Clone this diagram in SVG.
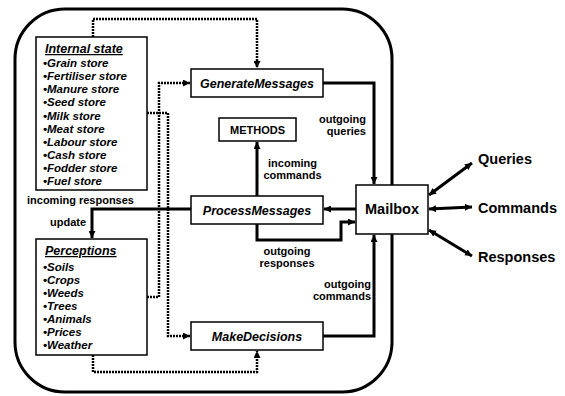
<svg xmlns="http://www.w3.org/2000/svg" width="565" height="396" viewBox="0 0 565 396">
<defs>
<marker id="ah" viewBox="0 0 10 10" refX="10" refY="5" markerWidth="7" markerHeight="7" markerUnits="userSpaceOnUse" orient="auto-start-reverse">
<path d="M0,0 L10,5 L0,10 z" fill="#000"/>
</marker>
<style>
text{font-family:"Liberation Sans",Arial,sans-serif;font-weight:bold;fill:#000}
.box{fill:#fff;stroke:#000;stroke-width:1.5}
.solid{fill:none;stroke:#000;stroke-width:3}
.dot{fill:none;stroke:#000;stroke-width:2.5;stroke-dasharray:2 1}
.arr{marker-end:url(#ah)}
.dbl{marker-start:url(#ah);marker-end:url(#ah)}
.bi{font-style:italic;font-size:12.5px}
.it{font-style:italic;font-size:11.5px}
.lbl{font-size:11px}
.big{font-size:14.5px}
</style>
</defs>
<rect width="565" height="396" fill="#fff"/>
<rect id="agent" x="15" y="9" width="377" height="383" rx="50" ry="50" fill="none" stroke="#000" stroke-width="3"/>

<g id="connectors">
<path class="dot arr" d="M93,37 V19 H257 V68"/>
<path class="dot arr" d="M147,297 H159 V83 H190"/>
<path class="dot arr" d="M147,113 H168 V336 H190"/>
<path class="dot arr" d="M93,355 V372 H257 V351"/>
<path class="solid arr" d="M323,83 H374 V184"/>
<path class="solid arr" d="M323,336 H374 V235"/>
<path class="solid arr" d="M356,209 H324"/>
<path class="solid arr" d="M257,224 V240 H341 V222 H355"/>
<path class="solid arr" d="M257,196 V142"/>
<path class="solid arr" d="M191,209 H92 V238"/>
<path class="solid dbl" d="M429,195 L472,163"/>
<path class="solid dbl" d="M429,209 L472,207"/>
<path class="solid dbl" d="M429,230 L472,256"/>
</g>

<g id="internal-state">
<rect class="box" x="36" y="37" width="111" height="153"/>
<text x="45" y="53" class="bi" text-decoration="underline">Internal state</text>
<text x="43" y="67" class="it">•Grain store</text>
<text x="43" y="80" class="it">•Fertiliser store</text>
<text x="43" y="93" class="it">•Manure store</text>
<text x="43" y="106" class="it">•Seed store</text>
<text x="43" y="120" class="it">•Milk store</text>
<text x="43" y="133" class="it">•Meat store</text>
<text x="43" y="146" class="it">•Labour store</text>
<text x="43" y="159" class="it">•Cash store</text>
<text x="43" y="172" class="it">•Fodder store</text>
<text x="43" y="185" class="it">•Fuel store</text>
</g>

<g id="perceptions">
<rect class="box" x="36" y="239" width="111" height="116"/>
<text x="45" y="255" class="bi" text-decoration="underline">Perceptions</text>
<text x="43" y="271" class="it">•Soils</text>
<text x="43" y="284" class="it">•Crops</text>
<text x="43" y="297" class="it">•Weeds</text>
<text x="43" y="310" class="it">•Trees</text>
<text x="43" y="323" class="it">•Animals</text>
<text x="43" y="336" class="it">•Prices</text>
<text x="43" y="349" class="it">•Weather</text>
</g>

<g id="generate">
<rect class="box" x="191" y="69" width="132" height="28"/>
<text x="257" y="88" class="bi" text-anchor="middle">GenerateMessages</text>
</g>
<g id="methods">
<rect class="box" x="219" y="118" width="77" height="23"/>
<text x="257.5" y="133.5" class="lbl" text-anchor="middle">METHODS</text>
</g>
<g id="process">
<rect class="box" x="191" y="196" width="132" height="28"/>
<text x="257" y="215" class="bi" text-anchor="middle">ProcessMessages</text>
</g>
<g id="decisions">
<rect class="box" x="191" y="322" width="132" height="28"/>
<text x="257" y="341" class="bi" text-anchor="middle">MakeDecisions</text>
</g>
<g id="mailbox">
<rect class="box" x="356" y="185" width="72" height="49"/>
<text x="392" y="214" class="big" text-anchor="middle">Mailbox</text>
</g>

<g id="labels">
<text x="366" y="123" class="lbl" text-anchor="end">outgoing</text>
<text x="366" y="135" class="lbl" text-anchor="end">queries</text>
<text x="292.5" y="167" class="lbl" text-anchor="middle">incoming</text>
<text x="292.5" y="179" class="lbl" text-anchor="middle">commands</text>
<text x="287" y="255" class="lbl" text-anchor="middle">outgoing</text>
<text x="287" y="267" class="lbl" text-anchor="middle">responses</text>
<text x="371" y="288" class="lbl" text-anchor="end">outgoing</text>
<text x="371" y="300" class="lbl" text-anchor="end">commands</text>
<text x="27" y="204" class="lbl">incoming responses</text>
<text x="50" y="226" class="lbl">update</text>
<text x="478" y="164" class="big">Queries</text>
<text x="478" y="213" class="big">Commands</text>
<text x="478" y="262" class="big">Responses</text>
</g>
</svg>
